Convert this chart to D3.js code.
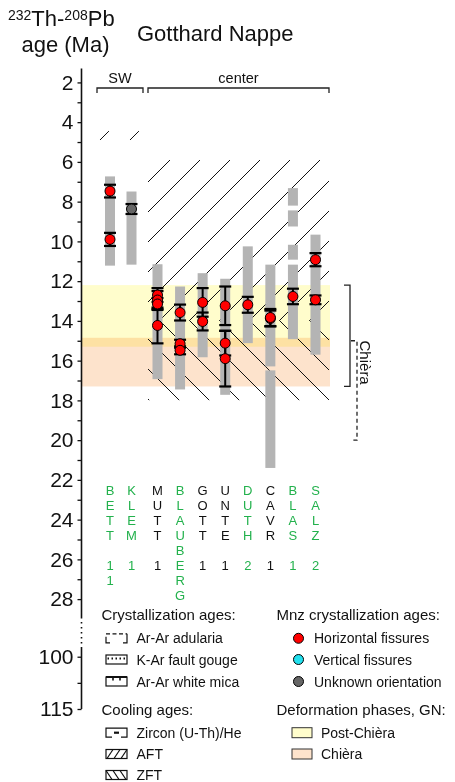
<!DOCTYPE html>
<html><head><meta charset="utf-8">
<script src="https://cdn.jsdelivr.net/npm/d3@7/dist/d3.min.js"></script>
<style>
html,body{margin:0;padding:0;background:#fff;}
svg text{font-family:"Liberation Sans",Arial,Helvetica,sans-serif;fill:#111;}
</style></head><body>
<svg id="chart" width="455" height="782"></svg>
<script>
// ---- data ----
// sampling sites, left to right, and the region each belongs to
const sites = ['BETT','KLEM','MUTT','BLAUBERG','GOTT','UNTE','DUTH','CAVR','BLAS','SALZ'];
const siteRegions = ['SW','SW','center','center','center','center','center','center','center','center'];
const siteNumbers = ['11','1','1','','1','1','2','1','1','2'];
// sites printed in green
const greenSites = ['BETT','KLEM','BLAUBERG','DUTH','BLAS','SALZ'];
const regions = ['SW','center'];

// age axis ticks (Ma)
const majorTicks = [2,4,6,8,10,12,14,16,18,20,22,24,26,28,100,115];
const minorTicks = [3,5,7,9,11,13,15,17,19,21,23,25,27,107.5];

// grey ranges: [site, from Ma, to Ma]
const ageRanges = [
  ['BETT', 6.73, 11.22], ['KLEM', 7.49, 11.17], ['MUTT', 11.15, 16.93],
  ['BLAUBERG', 12.27, 17.45], ['GOTT', 11.6, 15.83], ['UNTE', 11.88, 17.72],
  ['DUTH', 10.25, 15.12], ['CAVR', 11.17, 16.29], ['CAVR', 16.49, 21.4],
  ['BLAS', 7.32, 8.2], ['BLAS', 8.44, 9.25], ['BLAS', 10.17, 10.92],
  ['BLAS', 11.17, 14.92], ['SALZ', 9.66, 15.7]
];

// monazite ages: [site, age Ma, 2σ error, fissure orientation]
const mnzAges = [
  ['BETT', 7.47, 0.32, 'H'], ['BETT', 9.9, 0.33, 'H'],
  ['KLEM', 8.37, 0.25, 'U'],
  ['MUTT', 12.7, 0.35, 'H'], ['MUTT', 12.95, 0.45, 'H'], ['MUTT', 13.15, 0.3, 'H'], ['MUTT', 14.23, 0.9, 'H'],
  ['BLAUBERG', 13.58, 0.4, 'H'], ['BLAUBERG', 15.15, 0.2, 'H'], ['BLAUBERG', 15.48, 0.2, 'H'],
  ['GOTT', 13.07, 0.72, 'H'], ['GOTT', 14.03, 0.45, 'H'],
  ['UNTE', 13.24, 0.97, 'H'], ['UNTE', 15.12, 0.62, 'H'], ['UNTE', 15.9, 1.4, 'H'],
  ['DUTH', 13.19, 0.4, 'H'],
  ['CAVR', 13.88, 0.4, 'H'], ['CAVR', 13.83, 0.43, 'H'],
  ['BLAS', 12.77, 0.39, 'H'],
  ['SALZ', 10.92, 0.33, 'H'], ['SALZ', 12.94, 0.22, 'H']
];

// fission-track cooling ages: [region, from Ma, to Ma]
const aftRanges = [['SW', 4.45, 4.9], ['center', 5.9, 14.0]];
const zftRanges = [['center', 14.0, 18.0]];

// deformation phases of the Gotthard Nappe: [name, from Ma, to Ma]
const phases = [['Post-Chièra', 12.2, 15.3], ['Chièra', 14.85, 17.3]];
// Chièra age brackets: [from Ma, to Ma, dashed]
const chieraBrackets = [[12.2, 17.3, false], [15.0, 20.0, true]];

// ---- scales ----
const svg = d3.select('#chart');
const FONT = '"Liberation Sans",Arial,Helvetica,sans-serif';

// broken age axis: 1.3–28.9 Ma, then 97.5–115 Ma compressed
const y = d3.scaleLinear().domain([1.3, 28.9, 97.5, 115]).range([68.5, 617, 648, 709]);

const regionSpan = d3.scaleOrdinal().domain(regions).range([[97, 143], [148, 329]]);
const xSW = d3.scalePoint().domain(sites.filter((s, i) => siteRegions[i] === 'SW')).range([110, 131.5]);
const xCenter = d3.scalePoint().domain(sites.filter((s, i) => siteRegions[i] === 'center')).range([157.5, 315.5]);
const xOf = s => siteRegions[sites.indexOf(s)] === 'SW' ? xSW(s) : xCenter(s);

const orientFill = d3.scaleOrdinal().domain(['H', 'V', 'U']).range(['#ff0000', '#22e0ee', '#666666']);
const phaseFill = d3.scaleOrdinal().domain(phases.map(p => p[0])).range(['#fffdcc', '#fde3cc']);

const plotLeft = 82, plotRight = 330;

// ---- deformation phase bands ----
svg.append('g').selectAll('rect').data(phases).join('rect')
  .attr('x', plotLeft).attr('width', plotRight - plotLeft)
  .attr('y', d => y(d[1])).attr('height', d => y(d[2]) - y(d[1]))
  .attr('fill', d => phaseFill(d[0]))
  .style('mix-blend-mode', 'multiply');

// ---- hatched cooling-age fields ----
const defs = svg.append('defs');
function hatch(ranges, dir, id) {
  const g = svg.append('g');
  ranges.forEach((r, i) => {
    const [x0, x1] = regionSpan(r[0]);
    const yT = y(r[1]), yB = y(r[2]);
    const cid = id + i;
    defs.append('clipPath').attr('id', cid).append('rect')
      .attr('x', x0).attr('y', yT).attr('width', x1 - x0).attr('height', yB - yT);
    const lines = [];
    const step = 30;
    if (dir === '/') {
      // lines x + y = k
      for (let k = Math.floor((x0 + yT) / step) * step; k <= x1 + yB; k += step)
        lines.push([k - yB, yB, k - yT, yT]);
    } else {
      // lines x - y = k
      const phase = 19;
      for (let k = Math.floor((x0 - yB - phase) / step) * step + phase; k <= x1 - yT; k += step)
        lines.push([k + yT, yT, k + yB, yB]);
    }
    g.append('g').attr('clip-path', `url(#${cid})`)
      .selectAll('line').data(lines).join('line')
      .attr('x1', d => d[0]).attr('y1', d => d[1]).attr('x2', d => d[2]).attr('y2', d => d[3])
      .attr('stroke', '#111').attr('stroke-width', 1);
  });
}
hatch(aftRanges, '/', 'aft');
hatch(zftRanges, '\\', 'zft');

// ---- grey age ranges ----
svg.append('g').selectAll('rect').data(ageRanges).join('rect')
  .attr('x', d => xOf(d[0]) - 5).attr('width', 10)
  .attr('y', d => y(d[1])).attr('height', d => y(d[2]) - y(d[1]))
  .attr('fill', '#b4b4b4');

// ---- monazite ages with error bars ----
const eb = svg.append('g').attr('stroke', '#000');
mnzAges.forEach(d => {
  const cx = xOf(d[0]);
  eb.append('line').attr('x1', cx).attr('x2', cx).attr('y1', y(d[1] - d[2])).attr('y2', y(d[1] + d[2])).attr('stroke-width', 2);
  [d[1] - d[2], d[1] + d[2]].forEach(v => {
    eb.append('line').attr('x1', cx - 6).attr('x2', cx + 6).attr('y1', y(v)).attr('y2', y(v)).attr('stroke-width', 2.2);
  });
});
svg.append('g').selectAll('circle').data(mnzAges).join('circle')
  .attr('cx', d => xOf(d[0])).attr('cy', d => y(d[1])).attr('r', 5)
  .attr('fill', d => orientFill(d[3])).attr('stroke', '#000').attr('stroke-width', 1);

// ---- age axis ----
const axisX = 81.5;
const gAxis = svg.append('g').attr('transform', `translate(${axisX},0)`);
gAxis.call(d3.axisLeft(y).tickValues(majorTicks).tickSize(4).tickPadding(4).tickFormat(d3.format('d')));
gAxis.append('g').call(d3.axisLeft(y).tickValues(minorTicks).tickSize(4).tickFormat(''));
gAxis.selectAll('.domain').remove();
gAxis.selectAll('.tick line').attr('stroke', '#111').attr('stroke-width', 1.3);
gAxis.selectAll('.tick text').attr('font-size', 21).attr('font-family', FONT).attr('fill', '#111');
const spine = [[1.3, 28.9, null], [28.9, 97.5, '1.5,3.5'], [97.5, 115, null]];
gAxis.selectAll('line.spine').data(spine).join('line').attr('class', 'spine')
  .attr('x1', 0).attr('x2', 0).attr('y1', d => y(d[0])).attr('y2', d => y(d[1]))
  .attr('stroke', '#111').attr('stroke-width', 1.6)
  .attr('stroke-dasharray', d => d[2]);

// ---- titles ----
const t1 = svg.append('text').attr('x', 8).attr('y', 26).attr('font-size', 22);
t1.append('tspan').attr('font-size', 14).attr('dy', -6).text('232');
t1.append('tspan').attr('dy', 6).text('Th-');
t1.append('tspan').attr('font-size', 14).attr('dy', -6).text('208');
t1.append('tspan').attr('dy', 6).text('Pb');
svg.append('text').attr('x', 65.5).attr('y', 52).attr('font-size', 22).attr('text-anchor', 'middle').text('age (Ma)');
svg.append('text').attr('x', 137).attr('y', 40.5).attr('font-size', 22).text('Gotthard Nappe');

// ---- region brackets ----
const rb = svg.append('g');
regions.forEach(r => {
  const [x0, x1] = regionSpan(r);
  rb.append('path').attr('d', `M${x0},93V88H${x1}V93`).attr('fill', 'none').attr('stroke', '#222').attr('stroke-width', 1.3);
  rb.append('text').attr('x', (x0 + x1) / 2).attr('y', 83).attr('text-anchor', 'middle').attr('font-size', 14.5).text(r);
});

// ---- Chièra brackets ----
const cb = svg.append('g');
chieraBrackets.forEach((b, i) => {
  const xv = 350 + i * 7;
  cb.append('path').attr('d', `M${xv - 6},${y(b[0])}H${xv}V${y(b[1])}H${xv - 6}`)
    .attr('fill', 'none').attr('stroke', '#222').attr('stroke-width', 1.3)
    .attr('stroke-dasharray', b[2] ? '4,3' : null);
});
svg.append('text').attr('transform', `translate(365,${y(16.1)}) rotate(90)`)
  .attr('text-anchor', 'middle').attr('dominant-baseline', 'central').attr('font-size', 15).text('Chièra');

// ---- site labels (vertical) ----
const lab = svg.append('g').attr('font-size', 13).attr('text-anchor', 'middle');
sites.forEach((s, i) => {
  const chars = s.split('').concat(siteNumbers[i] ? [' '].concat(siteNumbers[i].split('')) : []);
  chars.forEach((c, j) => {
    if (c === ' ') return;
    lab.append('text').attr('x', xOf(s)).attr('y', 490 + j * 15.1).attr('dominant-baseline', 'central')
      .style('fill', greenSites.includes(s) ? '#22b14c' : '#111').text(c);
  });
});

// ---- legend: crystallization and cooling ages ----
const leg = svg.append('g');
const headers = [['Crystallization ages:', 101.5, 620], ['Cooling ages:', 101.5, 715],
                 ['Mnz crystallization ages:', 276.5, 620], ['Deformation phases, GN:', 276.5, 715]];
headers.forEach(h => leg.append('text').attr('x', h[1]).attr('y', h[2]).attr('font-size', 15).text(h[0]));

const symItems = [['Ar-Ar adularia', 638.3], ['K-Ar fault gouge', 659.5], ['Ar-Ar white mica', 681.5],
                  ['Zircon (U-Th)/He', 732.7], ['AFT', 754], ['ZFT', 775]];
const sx = 106, sw = 21, sh = 9;
symItems.forEach(([name, cy], i) => {
  const g = leg.append('g').attr('transform', `translate(${sx},${cy - sh / 2})`)
    .attr('fill', 'none').attr('stroke', '#111').attr('stroke-width', 1.2);
  if (name === 'Ar-Ar adularia') {
    g.append('path').attr('d', `M0,0H${sw}`).attr('stroke-dasharray', '4,2.5');
    g.append('path').attr('d', `M0,3V${sh}H4M${sw - 4},${sh}H${sw}V0`);
  } else if (name === 'K-Ar fault gouge') {
    g.append('rect').attr('width', sw).attr('height', sh);
    g.append('path').attr('d', `M1.5,3.5H${sw - 1}`).attr('stroke-width', 1.8).attr('stroke-dasharray', '1.5,2.5');
  } else if (name === 'Ar-Ar white mica') {
    g.append('rect').attr('width', sw).attr('height', sh);
    g.append('path').attr('d', `M0,0H${sw}`).attr('stroke-width', 2);
    g.append('path').attr('d', `M7,0V3.5M14,0V3.5`).attr('stroke-width', 1.6);
  } else if (name === 'Zircon (U-Th)/He') {
    g.append('path').attr('d', `M6,${sh}H0V0H${sw}V${sh}H${sw - 6}`);
    g.append('path').attr('d', `M8,4.5H13`).attr('stroke-width', 2.2);
  } else {
    g.append('rect').attr('width', sw).attr('height', sh);
    const ls = name === 'AFT' ? [[1, sh, 7, 0], [8, sh, 14, 0], [15, sh, 21, 0]]
                              : [[0, 0, 6, sh], [7, 0, 13, sh], [14, 0, 20, sh]];
    ls.forEach(l => g.append('line').attr('x1', l[0]).attr('y1', l[1]).attr('x2', l[2]).attr('y2', l[3]));
  }
  leg.append('text').attr('x', 136.5).attr('y', cy).attr('dominant-baseline', 'central').attr('font-size', 14).text(name);
});

// ---- legend: monazite orientation ----
const orientItems = [['H', 'Horizontal fissures', 638.3], ['V', 'Vertical fissures', 659.5], ['U', 'Unknown orientation', 681.5]];
orientItems.forEach(([k, name, cy]) => {
  leg.append('circle').attr('cx', 298.5).attr('cy', cy).attr('r', 5)
    .attr('fill', orientFill(k)).attr('stroke', '#000').attr('stroke-width', 1);
  leg.append('text').attr('x', 314).attr('y', cy).attr('dominant-baseline', 'central').attr('font-size', 14).text(name);
});

// ---- legend: deformation phases ----
phases.forEach((p, i) => {
  const cy = 732.7 + i * 21.3;
  leg.append('rect').attr('x', 292).attr('y', cy - 5).attr('width', 20).attr('height', 10)
    .attr('fill', phaseFill(p[0])).attr('stroke', '#333').attr('stroke-width', 1);
  leg.append('text').attr('x', 321).attr('y', cy).attr('dominant-baseline', 'central').attr('font-size', 14).text(p[0]);
});
</script>
</body></html>
